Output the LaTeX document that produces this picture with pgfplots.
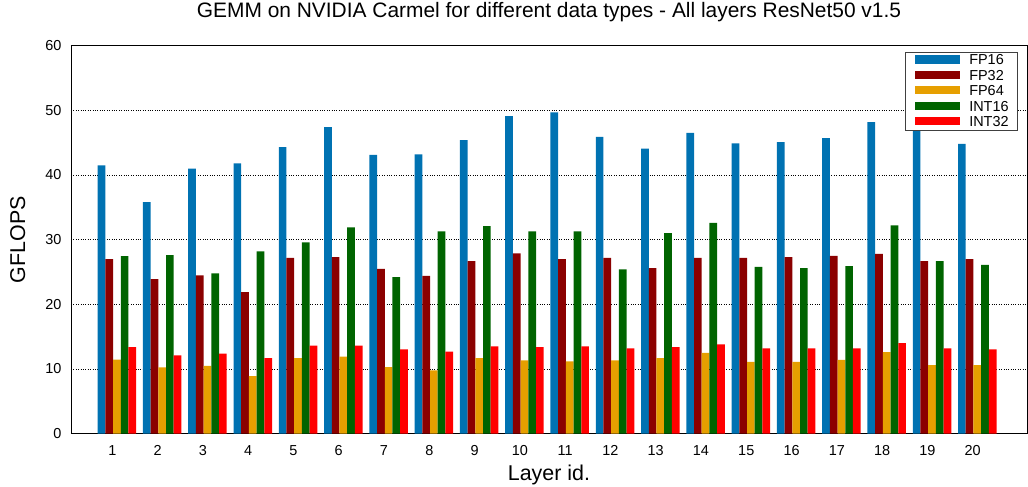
\documentclass[border=0pt]{standalone}
\usepackage{pgfplots}
\usepackage{pgfplotstable}
\pgfplotsset{compat=1.18}
\usepackage{fontspec}
\setmainfont{Liberation Sans}

\definecolor{cfp16}{RGB}{0,114,178}
\definecolor{cfp32}{RGB}{139,0,0}
\definecolor{cfp64}{RGB}{230,159,0}
\definecolor{cint16}{RGB}{0,100,0}
\definecolor{cint32}{RGB}{255,0,0}

% GFLOPS per layer
\pgfplotstableread{
x  fp16 fp32 fp64  int16 int32
1  41.5 27.0 11.45 27.45 13.4
2  35.8 23.9 10.27 27.6  12.1
3  41.0 24.5 10.5  24.8  12.4
4  41.8 21.9  8.9  28.2  11.7
5  44.3 27.2 11.7  29.6  13.6
6  47.4 27.3 11.9  31.9  13.6
7  43.1 25.5 10.3  24.2  13.05
8  43.2 24.4  9.8  31.3  12.7
9  45.4 26.7 11.7  32.1  13.5
10 49.1 27.9 11.35 31.3  13.4
11 49.7 27.0 11.2  31.3  13.5
12 45.9 27.2 11.35 25.4  13.2
13 44.1 25.6 11.7  31.0  13.4
14 46.5 27.2 12.5  32.6  13.8
15 44.9 27.2 11.1  25.8  13.2
16 45.1 27.3 11.1  25.6  13.2
17 45.7 27.5 11.4  25.9  13.2
18 48.2 27.8 12.6  32.2  14.0
19 47.5 26.7 10.6  26.7  13.2
20 44.8 27.0 10.6  26.1  13.05
}\datatable

\pgfplotsset{
  legimg/.style={legend image code/.code={\fill[##1] (0bp,-3.0bp) rectangle (45bp,5.2bp);}},
}

\begin{document}
\begin{tikzpicture}
\begin{axis}[
    scale only axis,
    width=956bp, height=388bp,
    ybar, bar width=0.17,
    xmin=0.088, xmax=21.2,
    ymin=0, ymax=60,
    xtick={1,...,20}, ytick={0,10,...,60},
    major tick length=0pt,
    ymajorgrids,
    major grid style={black, dotted, line width=0.8bp},
    axis line style={black, line width=0.9bp},
    /pgf/number format/assume math mode=true,
    tick label style={font=\fontsize{14.5}{17}\selectfont},
    xticklabel style={anchor=base, yshift=-21.6bp},
    yticklabel style={anchor=east, inner sep=0pt, xshift=-9.3bp},
    title={GEMM on NVIDIA Carmel for different data types - All layers ResNet50 v1.5},
    title style={at={(axis description cs:0.5,1.0577)}, anchor=base, inner sep=0pt,
      font=\fontsize{21}{25}\selectfont},
    xlabel={Layer id.},
    xlabel style={at={(axis description cs:0.5,-0.1219)}, anchor=base, inner sep=0pt,
      font=\fontsize{21.5}{25}\selectfont},
    ylabel={GFLOPS},
    ylabel style={at={(axis description cs:-0.0481,0.5)}, anchor=base, rotate=0, inner sep=0pt,
      font=\fontsize{21.5}{25}\selectfont},
    legend cell align=left,
    legend style={at={(axis description cs:0.9906,0.9845)}, anchor=north east,
      draw=black!75, line width=0.8bp, fill=white,
      inner xsep=9bp, inner ysep=0.8bp,
      font=\fontsize{14.5}{17}\selectfont,
      nodes={inner sep=0pt, text height=12bp, text depth=3.4bp},
      /tikz/every odd column/.append style={column sep=9.4bp},
      /tikz/every even column/.append style={column sep=5bp}},
]
\addplot[fill=cfp16, draw=none, bar shift=-0.238, legimg] table[x=x, y=fp16] {\datatable};
\addplot[fill=cfp32, draw=none, bar shift=-0.068, legimg] table[x=x, y=fp32] {\datatable};
\addplot[fill=cfp64, draw=none, bar shift=0.102, legimg] table[x=x, y=fp64] {\datatable};
\addplot[fill=cint16, draw=none, bar shift=0.272, legimg] table[x=x, y=int16] {\datatable};
\addplot[fill=cint32, draw=none, bar shift=0.442, legimg] table[x=x, y=int32] {\datatable};
\legend{FP16, FP32, FP64, INT16, INT32}
\coordinate (ll) at (axis description cs:0,0);
\coordinate (ur) at (axis description cs:1,1);
\end{axis}
\pgfresetboundingbox
\useasboundingbox ([xshift=-71bp,yshift=-53.3bp]ll) rectangle ([xshift=1bp,yshift=45.7bp]ur);
\end{tikzpicture}
\end{document}
